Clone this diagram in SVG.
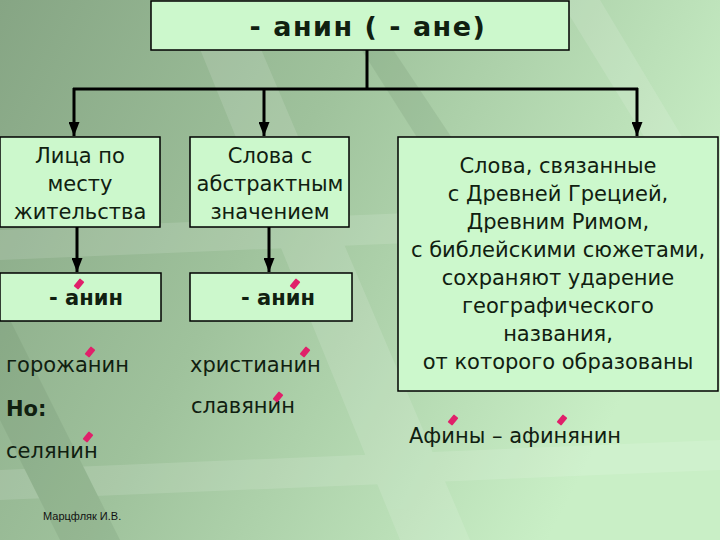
<svg xmlns="http://www.w3.org/2000/svg" width="720" height="540" viewBox="0 0 720 540">
<defs>
<linearGradient id="bg" x1="0" y1="0" x2="1" y2="0.4">
<stop offset="0" stop-color="#86a584"/>
<stop offset="0.45" stop-color="#9fc29c"/>
<stop offset="1" stop-color="#c9efc6"/>
</linearGradient>
<marker id="ah" markerWidth="14" markerHeight="11" refX="14" refY="5.5" orient="auto" markerUnits="userSpaceOnUse" viewBox="0 0 14 11">
<path d="M0,0 L14,5.5 L0,11 Z" fill="#000"/>
</marker>
<style>
.box{fill:#ccf8cc;stroke:#000;stroke-width:1.5}
.t{font-family:"DejaVu Sans","Liberation Sans",sans-serif;font-size:21px;fill:#102010}
.c{text-anchor:middle}
.b{font-weight:bold}
.acc{fill:#e0206a}
.ln{stroke:#000;stroke-width:3;fill:none}
</style>
</defs>
<rect width="720" height="540" fill="url(#bg)"/>
<g opacity="0.12">
<polygon points="180,0 240,0 470,540 400,540" fill="#ffffff"/>
<polygon points="330,0 360,0 560,300 520,300" fill="#4f6f4f"/>
<polygon points="560,0 600,0 720,200 720,260" fill="#ffffff"/>
<polygon points="0,230 720,200 720,230 0,260" fill="#ffffff"/>
<polygon points="0,470 720,440 720,470 0,500" fill="#ffffff"/>
<polygon points="0,300 120,540 60,540 0,420" fill="#4f6f4f"/>
</g>
<g id="connectors">
<line class="ln" x1="367" y1="50" x2="367" y2="89"/>
<line class="ln" x1="73" y1="89" x2="638" y2="89"/>
<line class="ln" x1="74" y1="88" x2="74" y2="136" marker-end="url(#ah)"/>
<line class="ln" x1="264" y1="88" x2="264" y2="136" marker-end="url(#ah)"/>
<line class="ln" x1="637" y1="88" x2="637" y2="136" marker-end="url(#ah)"/>
<line class="ln" x1="77" y1="227" x2="77" y2="272" marker-end="url(#ah)"/>
<line class="ln" x1="269" y1="227" x2="269" y2="272" marker-end="url(#ah)"/>
</g>
<g id="title">
<rect class="box" x="151" y="1" width="418" height="49"/>
<text class="t c b" x="368" y="36" style="font-size:27px;letter-spacing:1.5px">- анин ( - ане)</text>
</g>
<g id="residence">
<rect class="box" x="0" y="137" width="160" height="90"/>
<text class="t c" x="80" y="163">Лица по</text>
<text class="t c" x="80" y="191">месту</text>
<text class="t c" x="80" y="219">жительства</text>
</g>
<g id="abstract">
<rect class="box" x="190" y="137" width="159" height="90"/>
<text class="t c" x="270" y="163">Слова с</text>
<text class="t c" x="270" y="191">абстрактным</text>
<text class="t c" x="270" y="219">значением</text>
</g>
<g id="suffix1">
<rect class="box" x="0" y="273" width="161" height="48"/>
<text class="t c b" x="86" y="305">- анин</text>
<rect class="acc" x="-3" y="-5" width="6" height="10" rx="1" transform="translate(79,284) rotate(40)"/>
</g>
<g id="suffix2">
<rect class="box" x="190" y="273" width="162" height="48"/>
<text class="t c b" x="278" y="305">- анин</text>
<rect class="acc" x="-3" y="-5" width="6" height="10" rx="1" transform="translate(295,284) rotate(40)"/>
</g>
<g id="ancient">
<rect class="box" x="398" y="137" width="320" height="254"/>
<text class="t c" x="558" y="173">Слова, связанные</text>
<text class="t c" x="558" y="201">с Древней Грецией,</text>
<text class="t c" x="558" y="229">Древним Римом,</text>
<text class="t c" x="558" y="257">с библейскими сюжетами,</text>
<text class="t c" x="558" y="285">сохраняют ударение</text>
<text class="t c" x="558" y="313">географического</text>
<text class="t c" x="558" y="341">названия,</text>
<text class="t c" x="558" y="369">от которого образованы</text>
</g>
<g id="examples">
<text class="t" x="6" y="372">горожанин</text>
<rect class="acc" x="-3" y="-5" width="6" height="10" rx="1" transform="translate(90,352) rotate(40)"/>
<text class="t" x="190" y="372">христианин</text>
<rect class="acc" x="-3" y="-5" width="6" height="10" rx="1" transform="translate(305,352) rotate(40)"/>
<text class="t b" x="6" y="416">Но:</text>
<text class="t" x="191" y="413">славянин</text>
<rect class="acc" x="-3" y="-5" width="6" height="10" rx="1" transform="translate(278,397) rotate(40)"/>
<text class="t" x="6" y="458">селянин</text>
<rect class="acc" x="-3" y="-5" width="6" height="10" rx="1" transform="translate(88,437) rotate(40)"/>
<text class="t" x="409" y="443">Афины – афинянин</text>
<rect class="acc" x="-3" y="-5" width="6" height="10" rx="1" transform="translate(453,420) rotate(40)"/>
<rect class="acc" x="-3" y="-5" width="6" height="10" rx="1" transform="translate(562,420) rotate(40)"/>
<text x="43" y="520" style="font-family:'Liberation Sans',Arial,sans-serif;font-size:11px;fill:#111">Марцфляк И.В.</text>
</g>
</svg>
